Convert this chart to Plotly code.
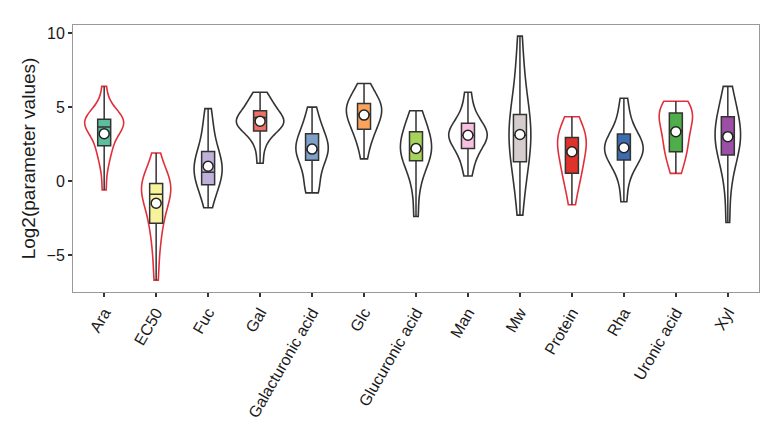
import plotly.graph_objects as go
import numpy as np

# categories and estimated sample values (log2 scale)
categories = ["Ara", "EC50", "Fuc", "Gal", "Galacturonic acid", "Glc", "Glucuronic acid",
              "Man", "Mw", "Protein", "Rha", "Uronic acid", "Xyl"]

ara = [-0.6, 0.8, 1.5, 2.0, 2.3, 2.6, 3.0, 3.3, 3.6, 3.7, 3.8, 3.9, 4.0, 4.0, 4.1, 4.2, 4.3, 4.5, 4.8, 5.2, 6.4]
ec50 = [-6.7, -5.0, -3.9, -3.0, -2.6, -2.0, -1.5, -1.0, -0.8, -0.6, -0.4, -0.3, -0.2, 0.0, 0.3, 0.8, 1.9]
fuc = [-1.8, -1.0, -0.5, -0.2, 0.1, 0.4, 0.6, 0.8, 1.0, 1.2, 1.5, 1.8, 2.1, 2.6, 3.3, 4.0, 4.9]
gal = [1.2, 2.3, 2.9, 3.3, 3.5, 3.7, 3.8, 3.9, 4.0, 4.1, 4.2, 4.4, 4.6, 4.8, 5.0, 5.3, 5.6, 6.0]
galacturonic = [-0.8, -0.6, -0.3, 0.5, 1.2, 1.5, 1.8, 2.0, 2.1, 2.2, 2.4, 2.7, 3.0, 3.3, 3.7, 4.3, 5.0]
glc = [1.5, 2.5, 3.0, 3.4, 3.7, 4.0, 4.3, 4.5, 4.7, 4.9, 5.0, 5.2, 5.4, 5.7, 6.0, 6.6]
glucuronic = [-2.4, -0.6, 0.4, 1.0, 1.3, 1.6, 1.9, 2.1, 2.3, 2.5, 2.8, 3.1, 3.4, 3.8, 4.3, 4.75]
man = [0.34, 1.2, 1.8, 2.2, 2.5, 2.8, 3.0, 3.1, 3.2, 3.4, 3.6, 3.9, 4.3, 4.9, 6.0]
mw = [-2.3, -0.8, 0.3, 1.0, 1.5, 2.0, 2.5, 3.0, 3.3, 3.6, 4.0, 4.5, 5.0, 5.8, 6.8, 8.0, 9.8]
protein = [-1.6, -0.5, 0.2, 0.5, 0.9, 1.4, 1.8, 2.2, 2.5, 2.7, 2.9, 3.1, 3.4, 3.8, 4.35]
rha = [-1.4, 0.0, 0.8, 1.2, 1.5, 1.8, 2.0, 2.1, 2.3, 2.5, 2.7, 3.0, 3.3, 3.8, 4.6, 5.6]
uronic = [0.52, 1.2, 1.8, 2.1, 2.5, 2.9, 3.3, 3.7, 4.1, 4.4, 4.6, 4.8, 4.9, 5.1, 5.4]
xyl = [-2.8, -0.6, 0.7, 1.4, 1.8, 2.2, 2.6, 2.9, 3.1, 3.4, 3.7, 4.1, 4.5, 5.0, 5.6, 6.4]

samples = [ara, ec50, fuc, gal, galacturonic, glc, glucuronic, man, mw, protein, rha, uronic, xyl]

# box statistics
q1 = [2.39, -2.86, -0.25, 3.38, 1.4, 3.5, 1.37, 2.2, 1.3, 0.52, 1.42, 1.98, 1.76]
median = [3.65, -0.9, 0.6, 4.3, 2.1, 4.5, 2.2, 3.1, 3.1, 2.0, 2.2, 3.4, 3.0]
q3 = [4.17, -0.16, 2.0, 4.75, 3.2, 5.25, 3.33, 3.9, 4.5, 2.95, 3.18, 4.6, 4.35]
means = [3.2, -1.5, 1.0, 4.05, 2.16, 4.46, 2.2, 3.1, 3.15, 1.98, 2.25, 3.33, 3.0]

# styles
box_colors = ["#5DBE9E", "#F7F29C", "#BEB0DA", "#F07067", "#7FA0C8", "#F9A35C", "#A6D45A",
              "#F8BFDF", "#D5CDCD", "#E0312A", "#3E6CB0", "#4DAE4A", "#9B4FA5"]
outline_colors = ["#E0303A", "#E0303A", "#333333", "#333333", "#333333", "#333333", "#333333",
                  "#333333", "#333333", "#E0303A", "#333333", "#E0303A", "#333333"]
violin_widths = [0.75, 0.56, 0.54, 0.91, 0.62, 0.68, 0.6, 0.74, 0.42, 0.55, 0.74, 0.64, 0.49]

fig = go.Figure()

for i, cat in enumerate(categories):
    vals = samples[i]
    fig.add_trace(go.Violin(
        x=[cat] * len(vals), y=vals,
        spanmode="hard", points=False,
        width=violin_widths[i],
        line=dict(color=outline_colors[i], width=1.6),
        fillcolor="rgba(255,255,255,0)",
        box=dict(visible=False), meanline=dict(visible=False),
        showlegend=False, hoverinfo="skip",
    ))

for i, cat in enumerate(categories):
    vals = samples[i]
    fig.add_trace(go.Box(
        x=[cat], q1=[q1[i]], median=[median[i]], q3=[q3[i]],
        lowerfence=[min(vals)], upperfence=[max(vals)],
        width=0.25, whiskerwidth=0,
        fillcolor=box_colors[i],
        line=dict(color="#333333", width=1.5),
        showlegend=False, hoverinfo="skip",
    ))

fig.add_trace(go.Scatter(
    x=categories, y=means, mode="markers",
    marker=dict(color="white", size=10, line=dict(color="#222222", width=1.5)),
    showlegend=False, hoverinfo="skip",
))

# page body has an 8px margin, so the figure is a bit smaller than the window
fig.update_layout(
    width=772, height=436,
    margin=dict(l=65, r=21, t=17, b=152),
    paper_bgcolor="white", plot_bgcolor="white",
    violinmode="overlay", boxmode="overlay",
    font=dict(family="Arial, Liberation Sans, sans-serif", color="#1a1a1a"),
    xaxis=dict(
        type="category", range=[-0.6, 12.6],
        tickangle=-60, tickfont=dict(size=16),
        ticks="outside", ticklen=4, tickwidth=1.5, tickcolor="#333333",
        showline=True, mirror=True, linecolor="#999999", linewidth=1,
        showgrid=False, zeroline=False,
    ),
    yaxis=dict(
        range=[-7.5, 10.55], tickvals=[-5, 0, 5, 10],
        tickfont=dict(size=16),
        ticks="outside", ticklen=4, tickwidth=1.5, tickcolor="#333333",
        showline=True, mirror=True, linecolor="#999999", linewidth=1,
        showgrid=False, zeroline=False,
        title=dict(text="Log2(parameter values)", font=dict(size=19), standoff=5),
    ),
)

fig.write_html("out.html")
